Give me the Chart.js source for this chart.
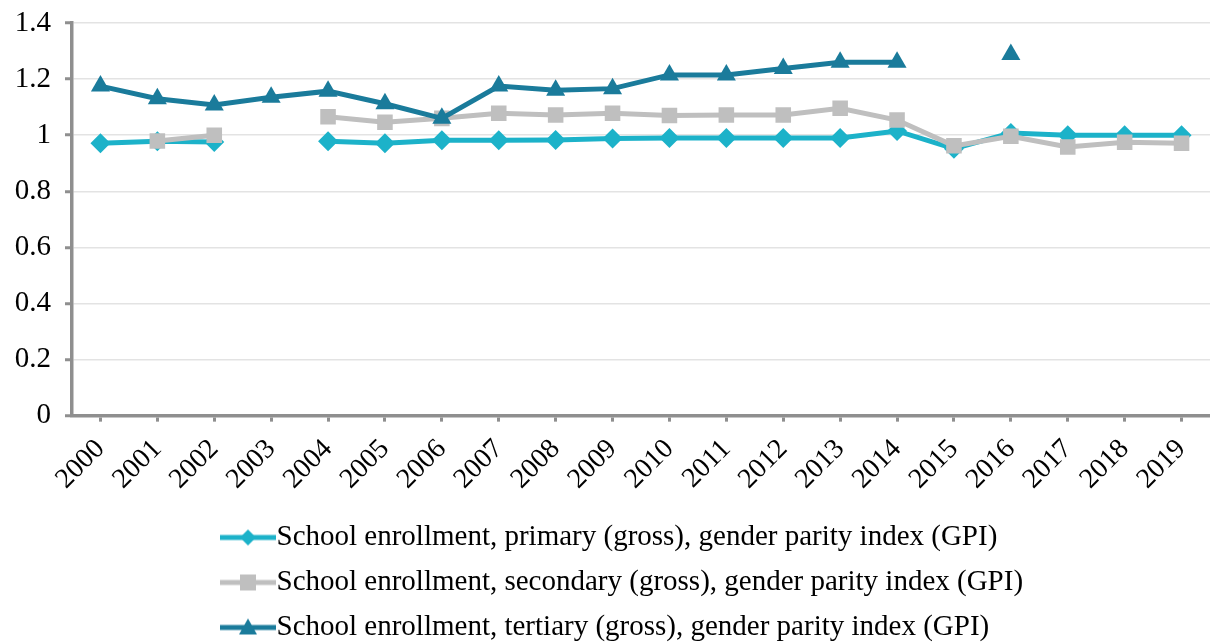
<!DOCTYPE html>
<html>
<head>
<meta charset="utf-8">
<script src="https://cdn.jsdelivr.net/npm/chart.js@4/dist/chart.umd.min.js"></script>
<style>
  html, body { margin: 0; padding: 0; background: #fff; }
  #wrap { position: relative; width: 1210px; height: 642px; }
</style>
</head>
<body>
<div id="wrap"><canvas id="gpiChart"></canvas></div>
<script>
const years = ['2000', '2001', '2002', '2003', '2004', '2005', '2006', '2007', '2008', '2009',
               '2010', '2011', '2012', '2013', '2014', '2015', '2016', '2017', '2018', '2019'];

const primaryGpi   = [0.971, 0.978, 0.976, null, 0.978, 0.971, 0.982, 0.982, 0.983, 0.988,
                      0.990, 0.990, 0.990, 0.990, 1.015, 0.952, 1.008, 1.000, 1.000, 1.000];
const secondaryGpi = [null, 0.979, 1.000, null, 1.066, 1.046, 1.060, 1.078, 1.072, 1.078,
                      1.070, 1.072, 1.072, 1.096, 1.054, 0.962, 0.996, 0.958, 0.975, 0.971];
const tertiaryGpi  = [1.175, 1.130, 1.108, 1.135, 1.157, 1.112, 1.060, 1.175, 1.160, 1.166,
                      1.215, 1.215, 1.238, 1.260, 1.260, null, 1.288, null, null, null];

const seriesNames = [
  'School enrollment, primary (gross), gender parity index (GPI)',
  'School enrollment, secondary (gross), gender parity index (GPI)',
  'School enrollment, tertiary (gross), gender parity index (GPI)'
];

const yTicks = [0, 0.2, 0.4, 0.6, 0.8, 1, 1.2, 1.4];

const colors = { primary: '#1cb2c9', secondary: '#bfbfbf', tertiary: '#1a7b9b' };
const FONT = '"Liberation Serif", "Times New Roman", serif';

// small line + marker picture for the legend
function legendIcon(color, shape) {
  const c = document.createElement('canvas');
  c.width = 56; c.height = 22;
  const g = c.getContext('2d');
  g.strokeStyle = color;
  g.fillStyle = color;
  g.lineWidth = 5;
  g.beginPath(); g.moveTo(0, 11); g.lineTo(56, 11); g.stroke();
  g.beginPath();
  if (shape === 'rectRot') {
    g.moveTo(28, 3); g.lineTo(36, 11); g.lineTo(28, 19); g.lineTo(20, 11);
  } else if (shape === 'rect') {
    g.rect(20, 3, 16, 16);
  } else {
    g.moveTo(28, 2); g.lineTo(37, 18); g.lineTo(19, 18);
  }
  g.closePath(); g.fill();
  return c;
}

function makeSet(label, data, color, shape, radius, order) {
  return {
    label, data, order,
    borderColor: color,
    backgroundColor: color,
    borderWidth: 5,
    pointStyle: shape,
    pointRadius: radius,
    pointHoverRadius: radius,
    pointBorderWidth: 0,
    spanGaps: false,
    tension: 0,
    legendIcon: legendIcon(color, shape)
  };
}

// pin the legend rows to a common left edge, as in the source figure
const legendLeft = {
  id: 'legendLeft',
  afterLayout(chart) {
    if (chart.legend) chart.legend.left = 218;
  }
};

new Chart(document.getElementById('gpiChart'), {
  type: 'line',
  data: {
    labels: years,
    datasets: [
      makeSet(seriesNames[0], primaryGpi, colors.primary, 'rectRot', 10, 3),
      makeSet(seriesNames[1], secondaryGpi, colors.secondary, 'rect', 11, 2),
      makeSet(seriesNames[2], tertiaryGpi, colors.tertiary, 'triangle', 11, 1)
    ]
  },
  options: {
    responsive: true,
    maintainAspectRatio: false,
    animation: false,
    layout: { autoPadding: false, padding: { top: 23, right: -4, bottom: -10, left: 0 } },
    plugins: {
      tooltip: { enabled: false },
      legend: {
        position: 'bottom',
        align: 'start',
        labels: {
          usePointStyle: true,
          pointStyleWidth: 28,
          padding: 16,
          color: '#000',
          font: { family: FONT, size: 29 },
          sort: (a, b) => a.datasetIndex - b.datasetIndex,
          generateLabels(chart) {
            const items = Chart.defaults.plugins.legend.labels.generateLabels(chart);
            items.forEach(it => {
              it.pointStyle = chart.data.datasets[it.datasetIndex].legendIcon;
            });
            return items;
          }
        }
      }
    },
    scales: {
      x: {
        offset: true,
        afterFit(scale) { scale.paddingRight = 0; scale.paddingLeft = 0; },
        grid: {
          drawOnChartArea: false,
          drawTicks: true,
          tickLength: 6,
          tickColor: '#8f8f8f',
          tickWidth: 3,
          offset: false
        },
        border: { color: '#8f8f8f', width: 3.5 },
        ticks: {
          color: '#000',
          font: { family: FONT, size: 28 },
          maxRotation: 45,
          minRotation: 45,
          autoSkip: false,
          padding: 11
        }
      },
      y: {
        min: 0,
        max: 1.4,
        afterFit(scale) { scale.width = 72; scale.paddingTop = 0; scale.paddingBottom = 0; },
        afterBuildTicks(scale) { scale.ticks = yTicks.map(v => ({ value: v })); },
        grid: {
          color: '#e3e3e3',
          lineWidth: 1.5,
          tickLength: 7,
          tickColor: '#8f8f8f',
          tickWidth: 3
        },
        border: { color: '#8f8f8f', width: 3.5 },
        ticks: {
          color: '#000',
          font: { family: FONT, size: 29 },
          padding: 14,
          callback: v => String(Math.round(v * 10) / 10)
        }
      }
    }
  },
  plugins: [legendLeft]
});
</script>
</body>
</html>
